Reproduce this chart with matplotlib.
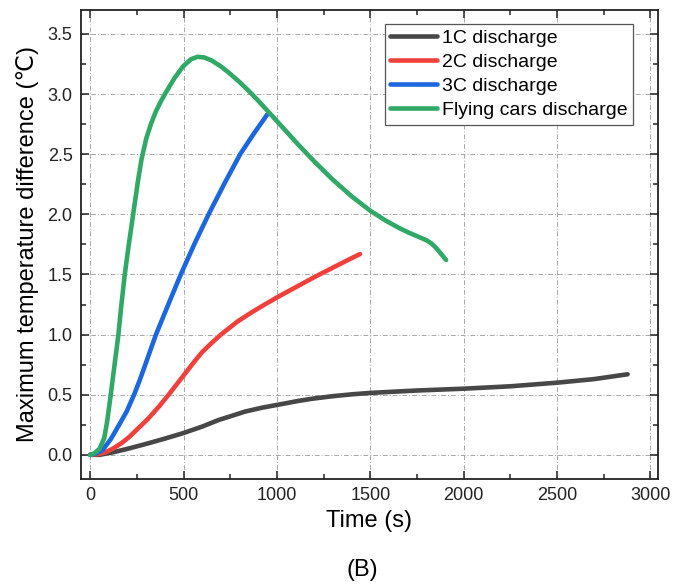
import matplotlib.pyplot as plt
from matplotlib.ticker import MultipleLocator

plt.rcParams['font.family'] = ['Liberation Sans', 'DejaVu Sans']

# 1C discharge
t_1c = [0, 50, 119, 200, 297, 400, 497, 600, 688, 760, 830, 920, 1000, 1114,
        1186, 1300, 1400, 1500, 1750, 2000, 2250, 2500, 2700, 2878]
v_1c = [0, 0.0, 0.02, 0.05, 0.09, 0.135, 0.18, 0.235, 0.29, 0.325, 0.36, 0.392,
        0.415, 0.448, 0.466, 0.488, 0.503, 0.515, 0.535, 0.55, 0.57, 0.60, 0.63, 0.67]

# 2C discharge
t_2c = [0, 40, 80, 120, 170, 210, 270, 310, 370, 420, 480, 525, 560, 600, 650,
        700, 790, 870, 940, 1007, 1114, 1203, 1310, 1380, 1445]
v_2c = [0, 0.005, 0.02, 0.05, 0.1, 0.15, 0.24, 0.3, 0.405, 0.5, 0.62, 0.71, 0.78,
        0.855, 0.93, 1.0, 1.11, 1.19, 1.255, 1.315, 1.405, 1.48, 1.565, 1.62, 1.67]

# 3C discharge
t_3c = [0, 30, 66, 110, 155, 195, 235, 265, 295, 352, 418, 485, 560, 634, 720,
        803, 880, 948]
v_3c = [0, 0.01, 0.04, 0.13, 0.25, 0.36, 0.5, 0.62, 0.75, 1.0, 1.25, 1.5, 1.76,
        2.0, 2.26, 2.5, 2.68, 2.83]

# flying cars
t_fc = [0, 20, 50, 75, 90, 110, 128, 151, 165, 185, 205, 230, 255, 275, 300,
        325, 350, 375, 400, 450, 497, 540, 575, 610, 650, 700, 741, 800, 850,
        900, 950, 1000, 1050, 1114, 1200, 1298, 1400, 1500, 1580, 1656, 1710,
        1763, 1800, 1826, 1850, 1880, 1906]
v_fc = [0, 0.01, 0.05, 0.14, 0.27, 0.5, 0.72, 1.0, 1.22, 1.5, 1.73, 2.0, 2.27,
        2.46, 2.63, 2.75, 2.85, 2.93, 3.0, 3.13, 3.23, 3.29, 3.31, 3.305, 3.28,
        3.23, 3.18, 3.10, 3.025, 2.945, 2.86, 2.775, 2.69, 2.58, 2.44, 2.29,
        2.15, 2.03, 1.95, 1.885, 1.845, 1.81, 1.785, 1.76, 1.725, 1.67, 1.62]

fig = plt.figure(figsize=(6.74, 5.84), dpi=100)
ax = fig.add_axes([0.120, 0.180, 0.856, 0.803])

lw = 3.3
ax.plot(t_1c, v_1c, color='#474747', lw=lw, label='1C discharge', solid_capstyle='round', zorder=3)
ax.plot(t_2c, v_2c, color='#F0403C', lw=lw, label='2C discharge', solid_capstyle='round', zorder=3)
ax.plot(t_3c, v_3c, color='#1C66DE', lw=lw, label='3C discharge', solid_capstyle='round', zorder=3)
ax.plot(t_fc, v_fc, color='#30A866', lw=lw, label='Flying cars discharge', solid_capstyle='round', zorder=3)

ax.set_xlim(-50, 3040)
ax.set_ylim(-0.2, 3.7)
ax.xaxis.set_major_locator(MultipleLocator(500))
ax.xaxis.set_minor_locator(MultipleLocator(250))
ax.yaxis.set_major_locator(MultipleLocator(0.5))
ax.yaxis.set_minor_locator(MultipleLocator(0.25))
ax.yaxis.set_major_formatter(plt.FormatStrFormatter('%.1f'))

ax.tick_params(which='both', direction='in', top=True, right=True, width=1.1, colors='#222222')
ax.tick_params(which='major', length=6, labelsize=13, pad=6)
ax.tick_params(which='minor', length=3.5)
for s in ax.spines.values():
    s.set_linewidth(1.3)
    s.set_color('#222222')

ax.grid(True, which='major', color='#a8a8a8', lw=0.7, linestyle=(0, (5, 2, 1, 2)))

ax.set_xlabel('Time (s)', fontsize=17, labelpad=4)
ax.set_ylabel('Maximum temperature difference (℃)', fontsize=17, labelpad=6)

leg = ax.legend(loc='upper right', bbox_to_anchor=(0.957, 0.970), borderaxespad=0,
                fontsize=14, fancybox=False, edgecolor='#555555', framealpha=1,
                handlelength=2.4, handletextpad=0.27, labelspacing=0.33,
                borderpad=0.28)
leg.get_frame().set_linewidth(0.9)

fig.text(0.538, 0.024, '(B)', fontsize=17, ha='center', va='center')

fig.savefig('out.png', dpi=100)
